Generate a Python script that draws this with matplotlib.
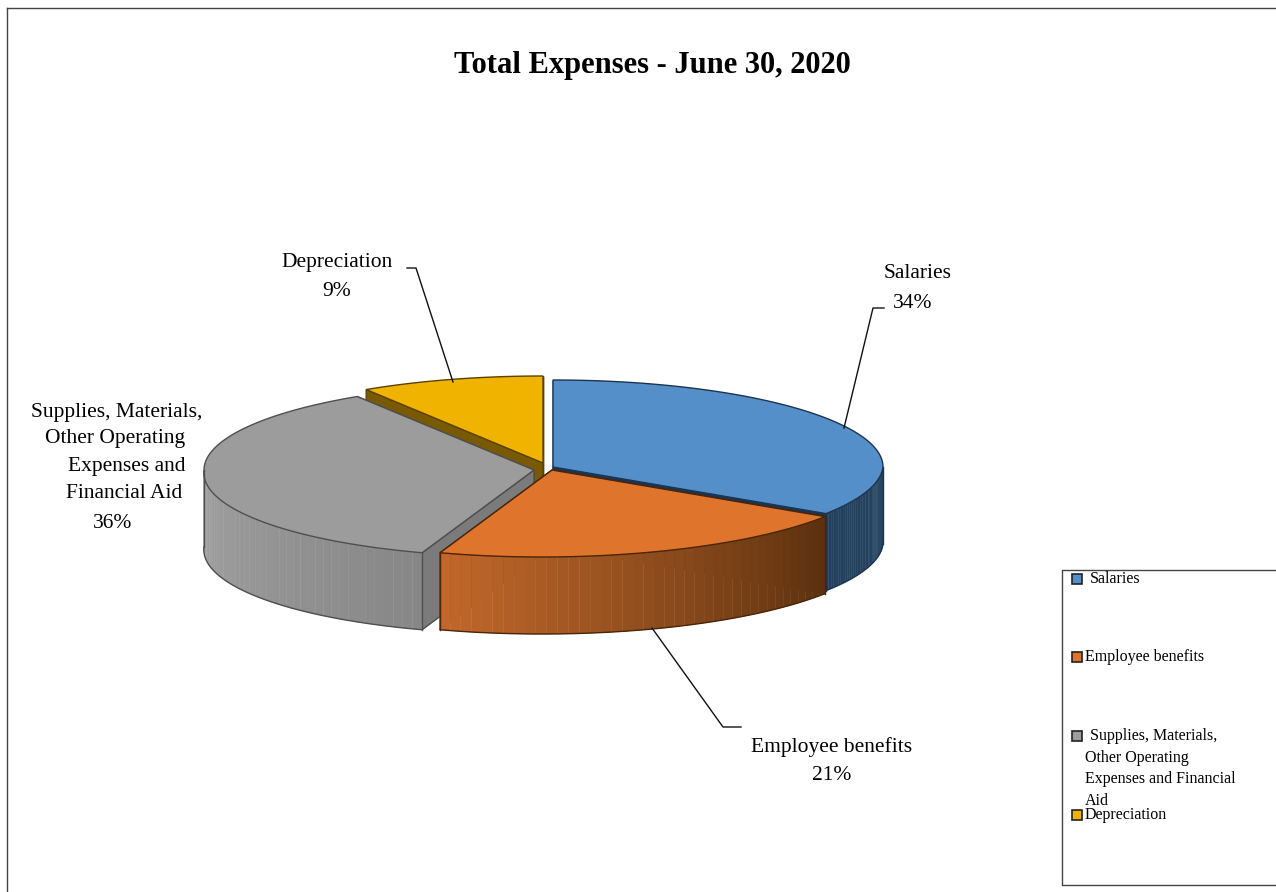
import matplotlib
matplotlib.use("Agg")
import matplotlib.pyplot as plt
from matplotlib.patches import Rectangle
import numpy as np

plt.rcParams['font.family'] = ['Liberation Serif', 'DejaVu Serif']

TITLE = "Total Expenses - June 30, 2020"
categories = ["Salaries", "Employee benefits",
              "Supplies, Materials, Other Operating Expenses and Financial Aid",
              "Depreciation"]
percents = [34, 21, 36, 9]

# look of each slice
top_colors = ["#548fc9", "#df752d", "#9c9c9c", "#efb300"]
edge_colors = ["#1c3550", "#4a2508", "#4f4f4f", "#5a4300"]
wall_left = ["#23415f", "#c2682b", "#a3a3a3", "#7a5a00"]
wall_right = ["#23415f", "#5a300f", "#878787", "#7a5a00"]
cut_colors = ["#1a3553", "#5a300f", "#7b7b7b", "#7a5a00"]
apex = [(553, 467), (552, 470), (534, 470), (543, 463)]

RX = 330
RY = 87
DEPTH = 77
# front half of the disc leans left a little for the perspective
LEAN = 0.12


def rim(cx, cy, theta):
    dy = -RY * np.cos(theta)
    x = cx + RX * np.sin(theta) - LEAN * np.maximum(dy, 0)
    return x, cy + dy


def mix(c1, c2, f):
    a = np.array(matplotlib.colors.to_rgb(c1))
    b = np.array(matplotlib.colors.to_rgb(c2))
    return tuple(a + (b - a) * f)


fig = plt.figure(figsize=(12.76, 8.92), dpi=100)
ax = fig.add_axes([0, 0, 1, 1])
ax.set_xlim(0, 1276)
ax.set_ylim(892, 0)
ax.axis("off")

# chart frame
ax.plot([7, 7], [892, 8], color="#444444", lw=1.0)
ax.plot([7, 1276], [8, 8], color="#444444", lw=1.0)

stops = np.cumsum([0] + percents) / sum(percents) * 2 * np.pi

# slices stacked back to front
for i in [3, 0, 2, 1]:
    cx, cy = apex[i]
    t0, t1 = stops[i], stops[i + 1]
    edge = edge_colors[i]

    # cut faces
    for t in (t1, t0):
        ex, ey = rim(cx, cy, t)
        ax.fill([cx, ex, ex, cx], [cy, ey, ey + DEPTH, cy + DEPTH],
                color=cut_colors[i], ec=edge, lw=1.0)

    # outer wall, only the part facing the front
    lo, hi = max(t0, np.pi / 2), min(t1, 3 * np.pi / 2)
    if lo < hi:
        steps = 40
        edges = np.linspace(lo, hi, steps + 1)
        for k in range(steps):
            # shade goes left to right, so walk the rim backwards
            f = 1 - (k + 0.5) / steps
            a = np.linspace(edges[k], edges[k + 1], 5)
            x, y = rim(cx, cy, a)
            ax.fill(np.r_[x, x[::-1]], np.r_[y, y[::-1] + DEPTH],
                    color=mix(wall_left[i], wall_right[i], f), lw=0.3)
        a = np.linspace(lo, hi, 80)
        x, y = rim(cx, cy, a)
        ax.plot(x, y + DEPTH, color=edge, lw=1.0)
        for t in (lo, hi):
            ex, ey = rim(cx, cy, t)
            ax.plot([ex, ex], [ey, ey + DEPTH], color=edge, lw=1.0)

    # top of the slice
    a = np.linspace(t0, t1, 120)
    x, y = rim(cx, cy, a)
    ax.fill(np.r_[cx, x], np.r_[cy, y], fc=top_colors[i], ec=edge, lw=1.0,
            joinstyle="miter")

# leader lines
leader_color = "#111111"
ax.plot([873, 884, 844][::1], [308, 308, 428], alpha=0)
ax.plot([884, 873, 844], [308, 308, 428], color=leader_color, lw=1.0)
ax.plot([741, 723, 652], [727, 727, 628], color=leader_color, lw=1.0)
ax.plot([407, 416, 453], [268, 268, 382], color=leader_color, lw=1.0)

# title and data labels
ax.text(652, 66, TITLE, ha="center", va="center", fontsize=22, fontweight="bold")

label_size = 15.5
ax.text(918, 273, categories[0], ha="center", va="center", fontsize=label_size)
ax.text(913, 303, f"{percents[0]}%", ha="center", va="center", fontsize=label_size)
ax.text(832, 747, categories[1], ha="center", va="center", fontsize=label_size)
ax.text(832, 776, f"{percents[1]}%", ha="center", va="center", fontsize=label_size)
ax.text(337, 262, categories[3], ha="center", va="center", fontsize=label_size)
ax.text(337, 292, f"{percents[3]}%", ha="center", va="center", fontsize=label_size)

supplies_lines = ["Supplies, Materials,", "Other Operating", "Expenses and", "Financial Aid"]
supplies_x = [117, 115, 127, 124]
supplies_y = [412, 439, 466, 494]
for line, sx, sy in zip(supplies_lines, supplies_x, supplies_y):
    ax.text(sx, sy, line, ha="center", va="center", fontsize=label_size)
ax.text(113, 523, f"{percents[2]}%", ha="center", va="center", fontsize=label_size)

# legend box, open on the right
ax.plot([1276, 1062, 1062, 1276], [570, 570, 885, 885], color="#444444", lw=1.0)

legend_size = 11.5
legend_y = [579, 657, 736, 815]
legend_text = [
    [(1090, 579, "Salaries")],
    [(1085, 657, "Employee benefits")],
    [(1090, 736, "Supplies, Materials,"), (1085, 758, "Other Operating"),
     (1085, 779, "Expenses and Financial"), (1085, 801, "Aid")],
    [(1085, 815, "Depreciation")],
]
for i in range(4):
    ax.add_patch(Rectangle((1072, legend_y[i] - 5), 10, 10, fc=top_colors[i],
                           ec="#222222", lw=1.2))
    for tx, ty, s in legend_text[i]:
        ax.text(tx, ty, s, ha="left", va="center", fontsize=legend_size)

fig.savefig("out.png", dpi=100)
